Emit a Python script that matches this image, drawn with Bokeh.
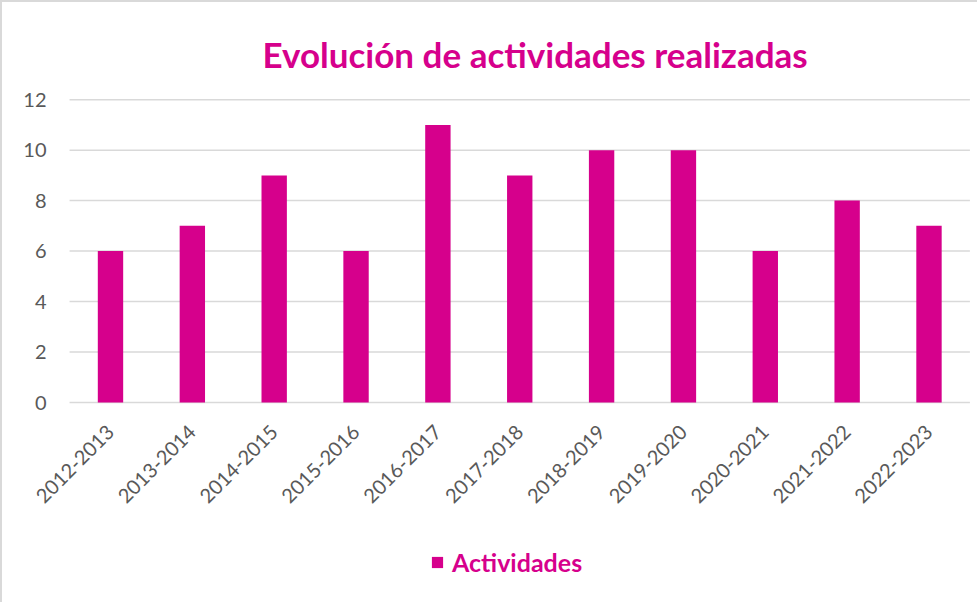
from math import pi
from bokeh.plotting import figure
from bokeh.models import Range1d, FixedTicker, Legend, LegendItem
from bokeh.core.properties import value
from bokeh.embed import file_html
from bokeh.resources import INLINE

categories = ["2012-2013", "2013-2014", "2014-2015", "2015-2016", "2016-2017",
              "2017-2018", "2018-2019", "2019-2020", "2020-2021", "2021-2022", "2022-2023"]
actividades = [6, 7, 9, 6, 11, 9, 10, 10, 6, 8, 7]
y_ticks = [0, 2, 4, 6, 8, 10, 12]

MAG = "#D6008C"
GRID = "#D9D9D9"
TXT = "#595959"
FONT = "Lato"

positions = list(range(len(categories)))
n = len(categories)

# frame is wider/taller than the bar area so that rotated labels, tick labels and legend are inside it
p = figure(x_range=Range1d(-1.185, n - 1 + 0.556), y_range=Range1d(-7.92, 12.6),
           frame_width=961, frame_height=518,
           min_border_left=11, min_border_right=3, min_border_top=82, min_border_bottom=0,
           output_backend="svg", toolbar_location=None,
           title="Evolución de actividades realizadas")
p.styles = {"border-left": "2px solid #D9D9D9", "border-top": "2px solid #D9D9D9"}
p.outline_line_color = None
p.background_fill_color = "white"

p.title.text_font = FONT
p.title.text_font_style = "bold"
p.title.text_font_size = "35px"
p.title.text_color = MAG
p.title.align = "left"
p.title.offset = 249
p.title.standoff = 20

p.xgrid.grid_line_color = None
p.ygrid.grid_line_color = None

# horizontal gridlines spanning the category area
p.segment(x0=-0.5, x1=n - 0.5, y0=y_ticks, y1=y_ticks, line_color=GRID, line_width=1.5)

r = p.vbar(x=positions, top=actividades, width=0.31, color=MAG, line_color=None)

# y tick labels
p.yaxis.visible = False
p.text(x=-0.5, y=y_ticks, text=[str(t) for t in y_ticks], x_offset=-23,
       text_align="right", text_baseline="middle", text_font=value(FONT),
       text_font_size="20px", text_color=TXT)

p.xaxis.fixed_location = 0
p.xaxis.ticker = FixedTicker(ticks=positions)
p.xaxis.major_label_overrides = {i: c for i, c in zip(positions, categories)}
p.xaxis.axis_line_color = None
p.xaxis.major_tick_line_color = None
p.xaxis.minor_tick_line_color = None
p.xaxis.major_label_orientation = pi / 4
p.xaxis.major_label_text_font = FONT
p.xaxis.major_label_text_font_size = "20px"
p.xaxis.major_label_text_color = TXT
p.xaxis.major_label_standoff = 20

lg = Legend(items=[LegendItem(label="Actividades", renderers=[r])],
            location=(417, 25), orientation="horizontal")
lg.border_line_color = None
lg.background_fill_alpha = 0
lg.padding = 0
lg.margin = 0
lg.glyph_width = 14
lg.glyph_height = 14
lg.label_standoff = 8
lg.label_text_font = FONT
lg.label_text_font_style = "bold"
lg.label_text_font_size = "25px"
lg.label_text_color = MAG
p.add_layout(lg, "center")

open("out.html", "w").write(file_html(p, INLINE))
